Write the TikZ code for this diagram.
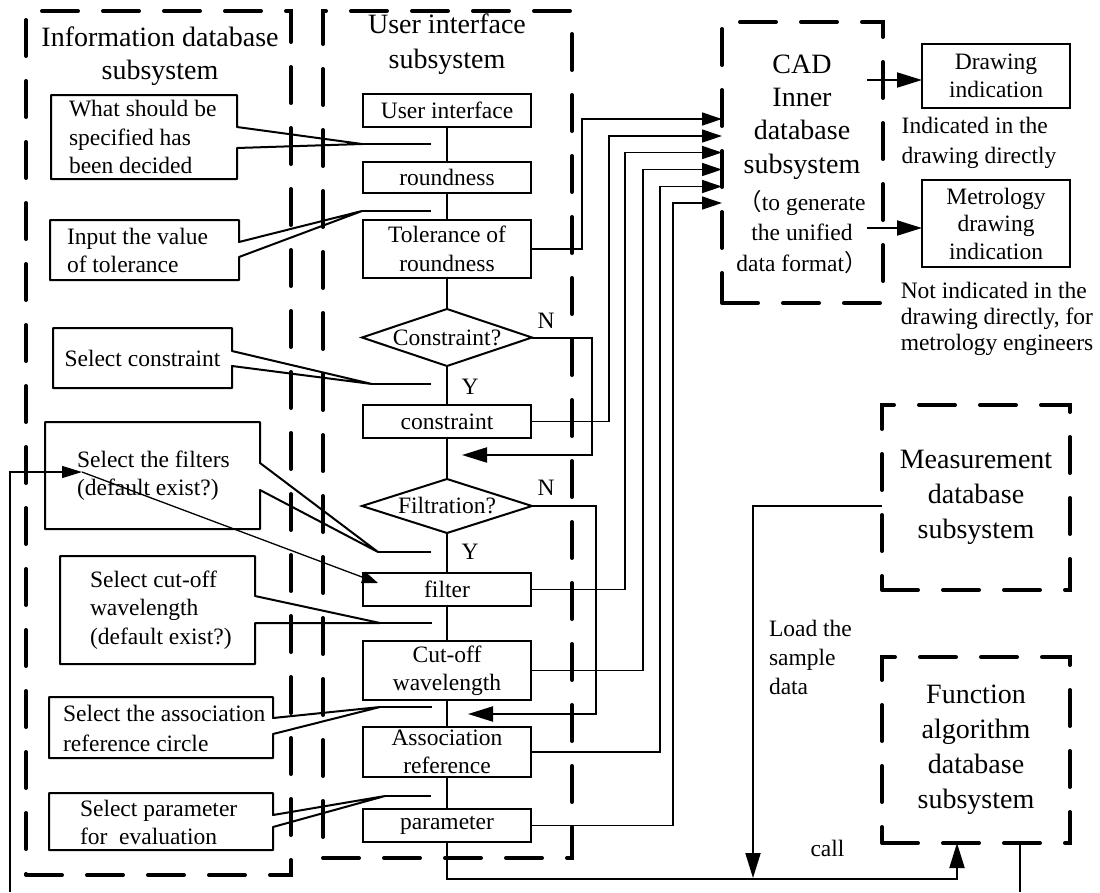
\documentclass[tikz,border=0pt]{standalone}
\usepackage{fontspec}
\setmainfont{Liberation Serif}
\newfontfamily\cjkf{Noto Sans CJK SC}
\usetikzlibrary{arrows.meta,shapes.geometric,calc}
\newcommand\mycallout[9]{%
  \draw[cl] (#1,#2) -- (#3,#2) -- (#3,#5) -- (#7,#8) -- (#3,#6) -- (#3,#4) -- (#1,#4) -- cycle;
  \draw[cl] (#7,#8) -- (#9,#8);}
\begin{document}
\begin{tikzpicture}[x=1pt,y=-1pt,
  every node/.style={inner sep=0pt, outer sep=0pt},
  sm/.style={font=\fontsize{23.5}{28}\selectfont},
  big/.style={font=\fontsize{28}{34}\selectfont},
  box/.style={draw, line width=2pt, sm, align=center, minimum width=168pt},
  dia/.style={draw, diamond, line width=2pt, minimum width=170pt},
  dbox/.style={draw, line width=4pt, dash pattern=on 36pt off 25pt, line cap=round},
  flow/.style={line width=2pt},
  cl/.style={line width=2pt, line join=round},
  thinl/.style={line width=1.3pt},
  bigtip/.style={-{Triangle[length=25pt,width=15pt]}},
  cadtip/.style={-{Triangle[length=20pt,width=13pt]}},
  smalltip/.style={-{Triangle[length=20pt,width=12pt]}},
  ftip/.style={-{Triangle[length=16pt,width=12pt]}},
]
\useasboundingbox (0,0) rectangle (1100,892);

% dashed subsystem boxes
\node[dbox, minimum width=265pt, minimum height=864pt] (info) at (158.5,443) {};
\node[dbox, minimum width=249pt, minimum height=847pt] (uis) at (447.5,434.5) {};
\node[dbox, minimum width=161pt, minimum height=281pt] (cad) at (802.5,162.5) {};
\node[dbox, minimum width=188pt, minimum height=185pt, big, align=center, font=\fontsize{28}{35}\selectfont] (meas) at (976,497.5) {Measurement\\database\\subsystem};
\node[dbox, minimum width=188pt, minimum height=186pt, big, align=center, font=\fontsize{28}{35}\selectfont] (func) at (976,750) {Function\\algorithm\\database\\subsystem};

% titles
\node[big, align=center, font=\fontsize{28}{33}\selectfont] (infot) at (160,56) {Information database\\subsystem};
\node[big, align=center, font=\fontsize{28}{35}\selectfont] (uist) at (447,44) {User interface\\subsystem};
\node[big, align=center, font=\fontsize{28}{33.3}\selectfont] (cadt1) at (802,117) {CAD\\Inner\\database\\subsystem};
\node[sm, align=center, font=\fontsize{23.5}{30.5}\selectfont] (cadt2) at (802,232) {{\cjkf （}to generate\\the unified\\data format{\cjkf ）}};

% UI flow boxes
\node[box, minimum height=33pt] (ui) at (447,110.5) {User interface};
\node[box, minimum height=31pt] (rd) at (447,177.5) {roundness};
\node[box, minimum height=58pt, font=\fontsize{23.5}{29}\selectfont] (tol) at (447,249) {Tolerance of\\roundness};
\node[dia, minimum height=57pt] (cons) at (447,337.5) {};
\node[sm] (const) at (cons) {Constraint?};
\node[box, minimum height=33pt] (cbox) at (447,421.5) {constraint};
\node[dia, minimum height=54pt] (filt) at (447,506) {};
\node[sm] (filtt) at (filt) {Filtration?};
\node[box, minimum height=33pt] (filter) at (447,589.5) {filter};
\node[box, minimum height=59pt] (cut) at (447,670.5) {Cut-off\\wavelength};
\node[box, minimum height=50pt] (assoc) at (447,752) {Association\\reference};
\node[box, minimum height=33pt] (param) at (447,825.5) {parameter};

\draw[flow] (ui) -- (rd);
\draw[flow] (rd) -- (tol);
\draw[flow] (tol) -- (cons);
\draw[flow] (cons) -- (cbox);
\draw[flow] (cbox) -- (filt);
\draw[flow] (filt) -- (filter);
\draw[flow] (filter) -- (cut);
\draw[flow] (cut) -- (assoc);
\draw[flow] (assoc) -- (param);

\node[sm] (y1) at (470,387) {Y};
\node[sm] (y2) at (470,552) {Y};
\node[sm] (nn1) at (546,321) {N};
\node[sm] (nn2) at (546,488) {N};

\coordinate (r1) at (462,455);
\coordinate (r2) at (468,714);
\draw[flow,bigtip] (cons.east) -- ++(60,0) |- (r1);
\draw[flow,bigtip] (filt.east) -- ++(64,0) |- (r2);

% connectors to CAD
\coordinate (k1) at (722,119);
\coordinate (k2) at (722,136);
\coordinate (k3) at (722,152.5);
\coordinate (k4) at (722,169.5);
\coordinate (k5) at (722,186.5);
\coordinate (k6) at (722,203);
\draw[thinl,cadtip] (tol.east) -- ++(51,0) |- (k1);
\draw[thinl,cadtip] (cbox.east) -- ++(78,0) |- (k2);
\draw[thinl,cadtip] (filter.east) -- ++(94,0) |- (k3);
\draw[thinl,cadtip] (cut.east) -- ++(112,0) |- (k4);
\draw[thinl,cadtip] (assoc.east) -- ++(129,0) |- (k5);
\draw[thinl,cadtip] (param.east) -- ++(142,0) |- (k6);

% CAD outputs
\node[draw, line width=2pt, minimum width=148pt, minimum height=64pt, sm, align=center] (drw) at (996,76) {Drawing\\indication};
\node[draw, line width=2pt, minimum width=148pt, minimum height=87pt, sm, align=center, font=\fontsize{23.5}{27.5}\selectfont] (met) at (996,223.5) {Metrology\\drawing\\indication};
\coordinate (d1) at (867,80);
\coordinate (d2) at (867,228);
\draw[flow,bigtip] (d1) -- (d1 -| drw.west);
\draw[flow,bigtip] (d2) -- (d2 -| met.west);
\node[sm, align=left, font=\fontsize{23.5}{29.5}\selectfont] (ind1) at (979,143) {Indicated in the\\drawing directly};
\node[sm, align=left, font=\fontsize{23.5}{26}\selectfont] (ind2) at (997,319) {Not indicated in the\\drawing directly, for\\metrology engineers};

% measurement / function
\coordinate (ld) at (882,506);
\coordinate (lt) at (753,878);
\draw[flow,bigtip] (ld) -| (lt);
\node[sm, anchor=west, align=left, font=\fontsize{23.5}{29}\selectfont] (loadt) at (769,657) {Load the\\sample\\data};
\node[sm] (callt) at (827.5,848) {call};
\coordinate (fc) at (957,843);
\draw[flow,bigtip] (param.south) -- (447,879) -| (fc);
\coordinate (fo1) at (1020,843);
\coordinate (fo2) at (1020,892);
\draw[thinl] (fo1) -- (fo2);

% left loop
\coordinate (lb) at (10,892);
\coordinate (la) at (82,472);
\coordinate (lf) at (378,583);
\draw[thinl,smalltip] (lb) |- (la);
\draw[thinl,ftip] (la) -- (lf);

% callouts
\mycallout{51}{95}{237}{179}{127}{148}{362}{144}{431}
\node[sm, anchor=west, align=left, font=\fontsize{23.5}{28.5}\selectfont] (c1) at (69,137) {What should be\\specified has\\been decided};
\mycallout{50}{220}{239}{280}{242}{257}{362}{211}{431}
\node[sm, anchor=west, align=left] (c2) at (67,250) {Input the value\\of tolerance};
\mycallout{53}{328}{232}{388}{351}{366}{372}{384}{431}
\node[sm] (c3) at (142.5,358) {Select constraint};
\mycallout{45}{422}{260}{529}{463}{490}{378}{552}{431}
\node[sm, anchor=west, align=left] (c4) at (77,476) {Select the filters\\(default exist?)};
\mycallout{60}{556}{255}{664}{596}{623}{380}{623}{432}
\node[sm, anchor=west, align=left, font=\fontsize{23.5}{28.5}\selectfont] (c5) at (90,610) {Select cut-off\\wavelength\\(default exist?)};
\mycallout{49}{697}{273}{758}{718}{734}{380}{707}{432}
\node[sm, anchor=west, align=left, font=\fontsize{23.5}{30}\selectfont] (c6) at (63,728) {Select the association\\reference circle};
\mycallout{49}{793}{273}{850}{815}{827}{385}{796}{431}
\node[sm, anchor=west, align=left] (c7) at (80,822) {Select parameter\\for\ \ evaluation};
\end{tikzpicture}
\end{document}
